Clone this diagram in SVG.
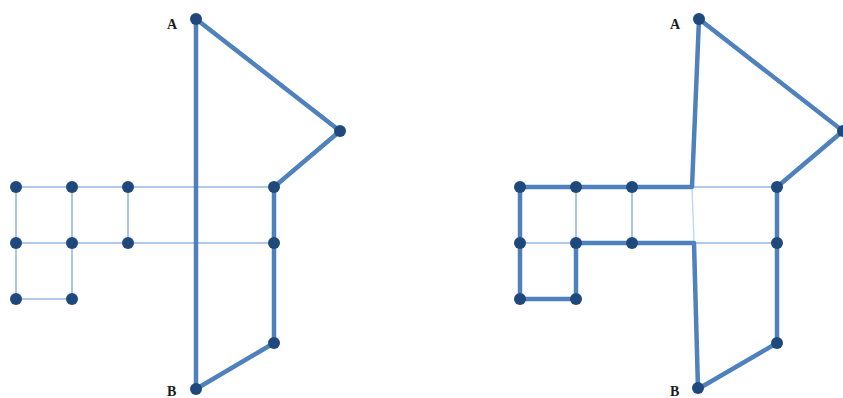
<svg xmlns="http://www.w3.org/2000/svg" width="843" height="398" viewBox="0 0 843 398">
<style>
.thick{stroke:#4f81bd;stroke-width:4.5;fill:none;stroke-linecap:round;stroke-linejoin:round}
.thin{stroke:#95b8e4;stroke-width:1.6;fill:none}
.faint{stroke:#c4d8f0;stroke-width:1.4;fill:none}
.dot{fill:#1f497d}
.lbl{font-family:"Liberation Serif","DejaVu Serif",serif;font-size:14px;font-weight:bold;fill:#1a1a1a}
</style>
<rect width="843" height="398" fill="#ffffff"/>
<g id="connectors">
<g id="left-thin">
<line class="thin" x1="16" y1="187" x2="274" y2="187"/>
<line class="thin" x1="16" y1="243" x2="274" y2="243"/>
<line class="thin" x1="16" y1="299" x2="72" y2="299"/>
<line class="thin" x1="16" y1="187" x2="16" y2="299"/>
<line class="thin" x1="72" y1="187" x2="72" y2="299"/>
<line class="thin" x1="128" y1="187" x2="128" y2="243"/>
</g>
<g id="left-thick">
<polyline class="thick" points="196,389 196,19 340,131 274,187 274,343 196,389"/>
</g>
<g id="right-thin">
<line class="thin" x1="692" y1="187" x2="777" y2="187"/>
<line class="thin" x1="694" y1="243" x2="777" y2="243"/>
<line class="thin" x1="520" y1="243" x2="576" y2="243"/>
<line class="thin" x1="576" y1="187" x2="576" y2="243"/>
<line class="thin" x1="632" y1="187" x2="632" y2="243"/>
<line class="faint" x1="692" y1="187" x2="694" y2="243"/>
</g>
<g id="right-thick">
<polyline class="thick" points="699,19 692,187 520,187 520,299 576,299 576,243 694,243 698,389 777,343 777,187 843,131 699,19"/>
</g>
</g>
<g id="left-A"><circle class="dot" cx="196" cy="19" r="6"/><text class="lbl" x="167" y="29">A</text></g>
<g id="left-B"><circle class="dot" cx="196" cy="389" r="6"/><text class="lbl" x="167" y="396">B</text></g>
<g id="left-n1"><circle class="dot" cx="340" cy="131" r="6"/></g>
<g id="left-n2"><circle class="dot" cx="274" cy="187" r="6"/></g>
<g id="left-n3"><circle class="dot" cx="274" cy="243" r="6"/></g>
<g id="left-n4"><circle class="dot" cx="274" cy="343" r="6"/></g>
<g id="left-g1"><circle class="dot" cx="16" cy="187" r="6"/></g>
<g id="left-g2"><circle class="dot" cx="72" cy="187" r="6"/></g>
<g id="left-g3"><circle class="dot" cx="128" cy="187" r="6"/></g>
<g id="left-g4"><circle class="dot" cx="16" cy="243" r="6"/></g>
<g id="left-g5"><circle class="dot" cx="72" cy="243" r="6"/></g>
<g id="left-g6"><circle class="dot" cx="128" cy="243" r="6"/></g>
<g id="left-g7"><circle class="dot" cx="16" cy="299" r="6"/></g>
<g id="left-g8"><circle class="dot" cx="72" cy="299" r="6"/></g>
<g id="right-A"><circle class="dot" cx="699" cy="19" r="6"/><text class="lbl" x="670" y="29">A</text></g>
<g id="right-B"><circle class="dot" cx="698" cy="388" r="6"/><text class="lbl" x="670" y="396">B</text></g>
<g id="right-n1"><circle class="dot" cx="843" cy="131" r="6"/></g>
<g id="right-n2"><circle class="dot" cx="777" cy="187" r="6"/></g>
<g id="right-n3"><circle class="dot" cx="777" cy="243" r="6"/></g>
<g id="right-n4"><circle class="dot" cx="777" cy="343" r="6"/></g>
<g id="right-g1"><circle class="dot" cx="520" cy="187" r="6"/></g>
<g id="right-g2"><circle class="dot" cx="576" cy="187" r="6"/></g>
<g id="right-g3"><circle class="dot" cx="632" cy="187" r="6"/></g>
<g id="right-g4"><circle class="dot" cx="520" cy="243" r="6"/></g>
<g id="right-g5"><circle class="dot" cx="576" cy="243" r="6"/></g>
<g id="right-g6"><circle class="dot" cx="632" cy="243" r="6"/></g>
<g id="right-g7"><circle class="dot" cx="520" cy="299" r="6"/></g>
<g id="right-g8"><circle class="dot" cx="576" cy="299" r="6"/></g>
</svg>
